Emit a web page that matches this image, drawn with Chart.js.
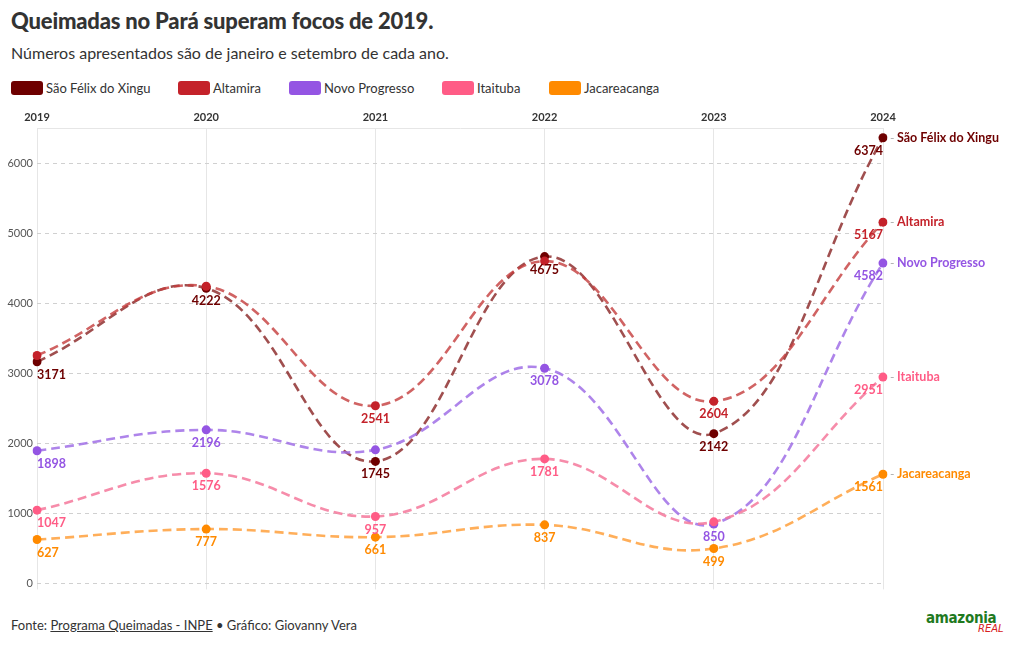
<!DOCTYPE html>
<html>
<head>
<meta charset="utf-8">
<script src="https://cdn.jsdelivr.net/npm/chart.js@4"></script>
<style>
  html,body{margin:0;padding:0;background:#fff;width:1020px;height:650px;overflow:hidden;font-family:Lato,"Open Sans",sans-serif;color:#333;}
  #title{position:absolute;left:11px;top:7px;font-size:22px;font-weight:900;color:#333;letter-spacing:-0.2px;}
  #subtitle{position:absolute;left:11px;top:43px;font-size:16px;color:#333;}
  #legend{position:absolute;left:11px;top:80px;font-size:13px;color:#333;height:18px;}
  .li{position:absolute;top:0;white-space:nowrap;line-height:16px;}
  .sw{display:inline-block;width:32px;height:14px;border-radius:3px;vertical-align:-2px;margin-right:3px;}
  #wrap{position:absolute;left:0;top:100px;width:1020px;height:500px;}
  #footer{position:absolute;left:11px;top:617px;font-size:13px;color:#333;}
  #footer u{text-decoration:underline;}
  #logo{position:absolute;left:926px;top:609px;width:90px;height:32px;}
  #logo .a{position:absolute;left:0;top:0;font-family:"DejaVu Sans Condensed","DejaVu Sans",sans-serif;font-weight:900;font-size:15px;color:#1f7a1f;letter-spacing:-0.3px;}
  #logo .r{position:absolute;left:52px;top:14px;font-family:"DejaVu Sans",sans-serif;font-style:italic;font-size:10px;color:#d62020;}
</style>
</head>
<body>
<div id="title">Queimadas no Pará superam focos de 2019.</div>
<div id="subtitle">Números apresentados são de janeiro e setembro de cada ano.</div>
<div id="legend"></div>
<div id="wrap"><canvas id="c" width="1020" height="500"></canvas></div>
<div id="footer">Fonte: <u>Programa Queimadas - INPE</u> • Gráfico: Giovanny Vera</div>
<div id="logo"><span class="a">amazonia</span><span class="r">REAL</span></div>
<script>
const years = ['2019','2020','2021','2022','2023','2024'];
const seriesNames = ['São Félix do Xingu','Altamira','Novo Progresso','Itaituba','Jacareacanga'];
const saoFelix = [3171, 4222, 1745, 4675, 2142, 6374];
const altamira = [3260, 4250, 2541, 4610, 2604, 5167];
const novoProgresso = [1898, 2196, 1910, 3078, 850, 4582];
const itaituba = [1047, 1576, 957, 1781, 880, 2951];
const jacareacanga = [627, 777, 661, 837, 499, 1561];
const yTicks = [0, 1000, 2000, 3000, 4000, 5000, 6000];

const colors = ['#6e0000', '#c4222a', '#9455e3', '#ff5c86', '#ff8a00'];
const lineColors = ['rgba(128,20,20,0.75)', 'rgba(196,60,60,0.8)', 'rgba(160,110,230,0.85)', 'rgba(245,120,155,0.85)', 'rgba(255,160,60,0.85)'];
const allData = [saoFelix, altamira, novoProgresso, itaituba, jacareacanga];
const legendX = [0, 167, 278, 431, 538];

const lg = document.getElementById('legend');
seriesNames.forEach((n, i) => {
  const d = document.createElement('div');
  d.className = 'li';
  d.style.left = legendX[i] + 'px';
  d.innerHTML = '<span class="sw" style="background:' + colors[i] + '"></span>' + n;
  lg.appendChild(d);
});

const labelPlugin = {
  id: 'valueLabels',
  afterDatasetsDraw(chart) {
    const ctx = chart.ctx;
    const placed = [];
    ctx.save();
    ctx.textBaseline = 'middle';
    chart.data.datasets.forEach((ds, di) => {
      const meta = chart.getDatasetMeta(di);
      ctx.font = 'bold 12.5px Lato, sans-serif';
      meta.data.forEach((pt, i) => {
        const txt = String(ds.data[i]);
        const w = ctx.measureText(txt).width;
        let align = 'center', x0 = pt.x - w / 2;
        if (i === 0) { align = 'left'; x0 = pt.x; }
        else if (i === meta.data.length - 1) { align = 'right'; x0 = pt.x - w; }
        const cy = pt.y + 13;
        const r = {x0: x0 - 1, x1: x0 + w + 1, y0: cy - 7, y1: cy + 7};
        if (placed.some(p => r.x0 < p.x1 && r.x1 > p.x0 && r.y0 < p.y1 && r.y1 > p.y0)) return;
        placed.push(r);
        ctx.fillStyle = colors[di];
        ctx.textAlign = align;
        ctx.fillText(txt, pt.x, cy);
      });
      const last = meta.data[meta.data.length - 1];
      ctx.textAlign = 'left';
      ctx.fillStyle = '#aaa';
      ctx.font = '12px Lato, sans-serif';
      ctx.fillText('-', last.x + 7, last.y);
      ctx.font = 'bold 12.5px Lato, sans-serif';
      ctx.fillStyle = colors[di];
      ctx.fillText(ds.label, last.x + 14, last.y);
    });
    ctx.restore();
  }
};

new Chart(document.getElementById('c'), {
  type: 'line',
  data: {
    labels: years,
    datasets: allData.map((d, i) => ({
      label: seriesNames[i],
      data: d,
      borderColor: lineColors[i],
      backgroundColor: colors[i],
      pointBackgroundColor: colors[i],
      pointBorderColor: colors[i],
      pointRadius: 4.5,
      pointBorderWidth: 0,
      borderWidth: 2.6,
      borderDash: [9, 5],
      tension: 0.4,
      fill: false,
      order: 5 - i
    }))
  },
  options: {
    responsive: false,
    animation: false,
    devicePixelRatio: 1,
    layout: {padding: {left: 0, right: 137, top: 0, bottom: 10}},
    plugins: {legend: {display: false}, tooltip: {enabled: false}},
    scales: {
      x: {
        position: 'top',
        offset: false,
        grid: {color: '#e6e6e6', lineWidth: 1, drawTicks: false},
        border: {color: '#e6e6e6'},
        ticks: {color: '#333', font: {family: 'Lato', size: 11, weight: 'bold'}, padding: 4, maxRotation: 0},
        afterFit(s) { s.height = 28; }
      },
      y: {
        min: -86,
        max: 6514,
        afterBuildTicks(s) { s.ticks = yTicks.map(v => ({value: v})); },
        grid: {color: '#d0d0d0', lineWidth: 1, drawTicks: false},
        border: {display: false, dash: [4, 4]},
        ticks: {color: '#555', font: {family: 'Lato', size: 11}, padding: 4, callback: v => String(v)},
        afterFit(s) { s.width = 37; }
      }
    }
  },
  plugins: [labelPlugin]
});
</script>
</body>
</html>
